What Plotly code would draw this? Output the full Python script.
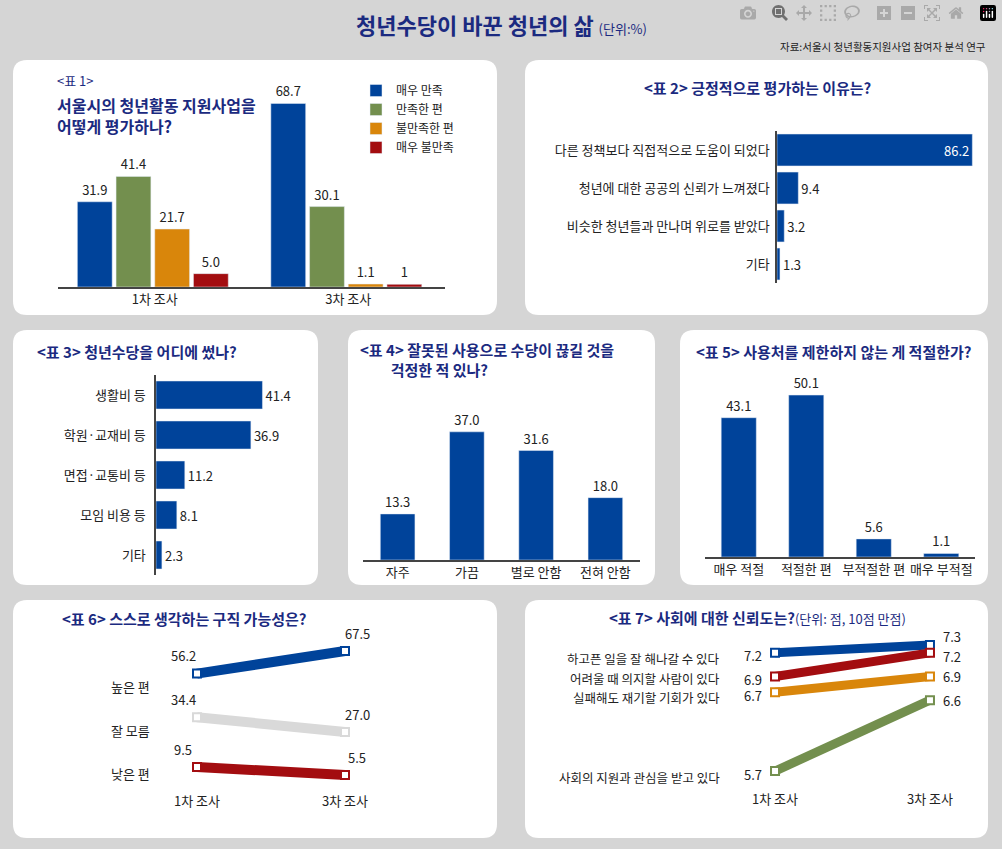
import plotly.graph_objects as go

W, H = 1002, 849
FONT = "Noto Sans CJK KR"
NAVY = "#1b2a80"
BLUE = "#00439a"
GREEN = "#738f4e"
ORANGE = "#d9860b"
RED = "#a30d10"
GRAY = "#d9d9d9"

# ---- data ----
t1_groups = ["1차 조사", "3차 조사"]
t1_series = ["매우 만족", "만족한 편", "불만족한 편", "매우 불만족"]
t1_values = [[31.9, 68.7], [41.4, 30.1], [21.7, 1.1], [5.0, 1]]
t1_text = [["31.9", "68.7"], ["41.4", "30.1"], ["21.7", "1.1"], ["5.0", "1"]]

t2_labels = ["다른 정책보다 직접적으로 도움이 되었다", "청년에 대한 공공의 신뢰가 느껴졌다",
             "비슷한 청년들과 만나며 위로를 받았다", "기타"]
t2_values = [86.2, 9.4, 3.2, 1.3]

t3_labels = ["생활비 등", "학원·교재비 등", "면접·교통비 등", "모임 비용 등", "기타"]
t3_values = [41.4, 36.9, 11.2, 8.1, 2.3]

t4_labels = ["자주", "가끔", "별로 안함", "전혀 안함"]
t4_values = [13.3, 37.0, 31.6, 18.0]

t5_labels = ["매우 적절", "적절한 편", "부적절한 편", "매우 부적절"]
t5_values = [43.1, 50.1, 5.6, 1.1]

surveys = ["1차 조사", "3차 조사"]
t6_labels = ["높은 편", "잘 모름", "낮은 편"]
t6_values = [[56.2, 67.5], [34.4, 27.0], [9.5, 5.5]]

t7_labels = ["하고픈 일을 잘 해나갈 수 있다", "어려울 때 의지할 사람이 있다",
             "실패해도 재기할 기회가 있다", "사회의 지원과 관심을 받고 있다"]
t7_values = [[7.2, 7.3], [6.9, 7.2], [6.7, 6.9], [5.7, 6.6]]


def px(x):
    return x / W


def py(y):
    return 1 - y / H


def dom_x(a, b):
    return [px(a), px(b)]


def dom_y(top, bottom):
    return [py(bottom), py(top)]


def rrect(x0, y0, x1, y1, r=14):
    a, b, c, d = px(x0), py(y0), px(x1), py(y1)
    rx, ry = r / W, r / H
    return (f"M{a+rx},{b} L{c-rx},{b} Q{c},{b} {c},{b-ry} L{c},{d+ry} Q{c},{d} {c-rx},{d} "
            f"L{a+rx},{d} Q{a},{d} {a},{d+ry} L{a},{b-ry} Q{a},{b} {a+rx},{b} Z")


fig = go.Figure()
annots = []
shapes = []

for box in [(13, 60, 497, 315), (525, 60, 988, 315), (13, 330, 318, 585),
            (348, 330, 655, 585), (680, 330, 988, 585), (13, 600, 497, 838),
            (525, 600, 988, 838)]:
    shapes.append(dict(type="path", path=rrect(*box), xref="paper", yref="paper",
                       fillcolor="white", line=dict(width=0), layer="below"))


def note(x, y, text, size=13, color="#222", xanchor="center", bold=False, **kw):
    if bold:
        text = f"<b>{text}</b>"
    annots.append(dict(x=px(x), y=py(y), xref="paper", yref="paper", text=text,
                       showarrow=False, xanchor=xanchor, yanchor="middle",
                       font=dict(size=size, color=color, family=FONT), **kw))


# ---- table 1 ----
colors1 = [BLUE, GREEN, ORANGE, RED]
for i, name in enumerate(t1_series):
    fig.add_trace(go.Bar(x=t1_groups, y=t1_values[i], name=name, marker_color=colors1[i],
                         width=0.18, offset=-0.4 + i * 0.2, text=t1_text[i],
                         textposition="outside", cliponaxis=False,
                         textfont=dict(size=13, color="#222"),
                         xaxis="x", yaxis="y", showlegend=True))

# ---- table 2 ----
fig.add_trace(go.Bar(y=t2_labels, x=t2_values, orientation="h", marker_color=BLUE,
                     width=0.84, text=[f"{v}" for v in t2_values],
                     textposition=["inside", "outside", "outside", "outside"],
                     insidetextanchor="end", cliponaxis=False,
                     textfont=dict(size=13), outsidetextfont=dict(color="#222"),
                     insidetextfont=dict(color="white"),
                     xaxis="x2", yaxis="y2", showlegend=False))

# ---- table 3 ----
fig.add_trace(go.Bar(y=t3_labels, x=t3_values, orientation="h", marker_color=BLUE,
                     width=0.7, text=[f"{v}" for v in t3_values], textposition="outside",
                     cliponaxis=False, textfont=dict(size=13, color="#222"),
                     xaxis="x3", yaxis="y3", showlegend=False))

# ---- table 4 ----
fig.add_trace(go.Bar(x=t4_labels, y=t4_values, marker_color=BLUE, width=0.5,
                     text=[f"{v:.1f}" for v in t4_values], textposition="outside",
                     cliponaxis=False, textfont=dict(size=13, color="#222"),
                     xaxis="x4", yaxis="y4", showlegend=False))

# ---- table 5 ----
fig.add_trace(go.Bar(x=t5_labels, y=t5_values, marker_color=BLUE, width=0.52,
                     text=[f"{v}" for v in t5_values], textposition="outside",
                     cliponaxis=False, textfont=dict(size=13, color="#222"),
                     xaxis="x5", yaxis="y5", showlegend=False))

# ---- table 6 ----
colors6 = [BLUE, GRAY, RED]
for i, lab in enumerate(t6_labels):
    fig.add_trace(go.Scatter(x=surveys, y=t6_values[i], mode="lines+markers",
                             line=dict(color=colors6[i], width=10),
                             marker=dict(symbol="square", size=8, color="white",
                                         line=dict(color=colors6[i], width=2)),
                             xaxis="x6", yaxis="y6", showlegend=False, cliponaxis=False))
    for j in range(2):
        annots.append(dict(x=surveys[j], y=t6_values[i][j], xref="x6", yref="y6",
                           text=f"{t6_values[i][j]}", showarrow=False,
                           xshift=-14 if j == 0 else 12, yshift=18,
                           font=dict(size=13, color="#222", family=FONT)))
for lab, yy in zip(t6_labels, [686, 730, 773]):
    note(130, yy, lab, size=13)

# ---- table 7 ----
colors7 = [BLUE, RED, ORANGE, GREEN]
right_shift = [8, -4, 0, 0]
for i, lab in enumerate(t7_labels):
    fig.add_trace(go.Scatter(x=surveys, y=t7_values[i], mode="lines+markers",
                             line=dict(color=colors7[i], width=9),
                             marker=dict(symbol="square", size=8, color="white",
                                         line=dict(color=colors7[i], width=2)),
                             xaxis="x7", yaxis="y7", showlegend=False, cliponaxis=False))
    for j in range(2):
        annots.append(dict(x=surveys[j], y=t7_values[i][j], xref="x7", yref="y7",
                           text=f"{t7_values[i][j]}", showarrow=False,
                           xshift=-22 if j == 0 else 22,
                           yshift=-3 if j == 0 else right_shift[i],
                           font=dict(size=13, color="#222", family=FONT)))
for lab, yy in zip(t7_labels, [658, 678, 697, 777]):
    note(722, yy, lab, size=12.5, xanchor="right")

# ---- titles ----
annots.append(dict(x=0.5, y=py(24), xref="paper", yref="paper", showarrow=False,
                   xanchor="center", yanchor="middle",
                   text="<b>청년수당이 바꾼 청년의 삶</b> <span style='font-size:13px'>(단위:%)</span>",
                   font=dict(size=22, color=NAVY, family=FONT)))
note(988, 46, "자료:서울시 청년활동지원사업 참여자 분석 연구", size=10.5, xanchor="right")
note(55, 80, "<표 1>", size=13, color=NAVY, xanchor="left")
note(55, 116, "서울시의 청년활동 지원사업을<br>어떻게 평가하나?", size=16, color=NAVY,
     xanchor="left", bold=True, align="left")
note(757, 88, "<표 2> 긍정적으로 평가하는 이유는?", size=15, color=NAVY, bold=True)
note(35, 351, "<표 3> 청년수당을 어디에 썼나?", size=15, color=NAVY, xanchor="left", bold=True)
note(358, 359, "<표 4> 잘못된 사용으로 수당이 끊길 것을<br>         걱정한 적 있나?", size=15,
     color=NAVY, xanchor="left", bold=True, align="left")
note(834, 351, "<표 5> 사용처를 제한하지 않는 게 적절한가?", size=15, color=NAVY, bold=True)
note(60, 618, "<표 6> 스스로 생각하는 구직 가능성은?", size=15, color=NAVY, xanchor="left", bold=True)
note(757, 617, "<표 7> 사회에 대한 신뢰도는?<span style='font-weight:normal;font-size:13px'>(단위: 점, 10점 만점)</span>",
     size=15, color=NAVY, bold=True)

hidden = dict(showgrid=False, zeroline=False, showticklabels=False, ticks="")
tickfont = dict(size=13, color="#222", family=FONT)
line_axis = dict(showline=True, linecolor="#444", linewidth=1.5)

fig.update_layout(
    width=W, height=H, margin=dict(l=0, r=0, t=0, b=0),
    paper_bgcolor="#d5d5d5", plot_bgcolor="rgba(0,0,0,0)",
    font=dict(family=FONT, color="#222"),
    shapes=shapes, annotations=annots,
    legend=dict(x=px(356), y=py(76), xanchor="left", yanchor="top",
                font=dict(size=12, family=FONT), bgcolor="rgba(0,0,0,0)",
                tracegroupgap=0, itemwidth=30),
    xaxis=dict(domain=dom_x(58, 445), showgrid=False, ticks="", tickfont=tickfont, **line_axis),
    yaxis=dict(domain=dom_y(100, 287), range=[0, 70], **hidden),
    xaxis2=dict(domain=dom_x(777, 990), range=[0, 94], anchor="y2", **hidden),
    yaxis2=dict(domain=dom_y(131, 283), anchor="x2", autorange="reversed", showgrid=False,
                ticks="", tickfont=tickfont, ticksuffix=" ", **line_axis),
    xaxis3=dict(domain=dom_x(156, 300), range=[0, 56], anchor="y3", **hidden),
    yaxis3=dict(domain=dom_y(375, 575), anchor="x3", autorange="reversed", showgrid=False,
                ticks="", tickfont=tickfont, ticksuffix="  ", **line_axis),
    xaxis4=dict(domain=dom_x(363, 640), anchor="y4", showgrid=False, ticks="",
                tickfont=tickfont, **line_axis),
    yaxis4=dict(domain=dom_y(410, 560), range=[0, 43.3], anchor="x4", **hidden),
    xaxis5=dict(domain=dom_x(705, 975), anchor="y5", showgrid=False, ticks="",
                tickfont=tickfont, **line_axis),
    yaxis5=dict(domain=dom_y(376, 557), range=[0, 56], anchor="x5", **hidden),
    xaxis6=dict(domain=dom_x(160, 382), range=[-0.25, 1.25], anchor="y6", showgrid=False,
                zeroline=False, ticks="", tickfont=tickfont),
    yaxis6=dict(domain=dom_y(640, 792), range=[-3, 73], anchor="x6", **hidden),
    xaxis7=dict(domain=dom_x(740, 965), range=[-0.226, 1.226], anchor="y7", showgrid=False,
                zeroline=False, ticks="", tickfont=tickfont),
    yaxis7=dict(domain=dom_y(630, 790), range=[5.46, 7.49], anchor="x7", **hidden),
)

fig.write_html("out.html")

# remove the default page margin so the figure fills the window
with open("out.html", encoding="utf-8") as f:
    page = f.read()
page = page.replace("<body>", '<body style="margin:0">', 1)
with open("out.html", "w", encoding="utf-8") as f:
    f.write(page)
